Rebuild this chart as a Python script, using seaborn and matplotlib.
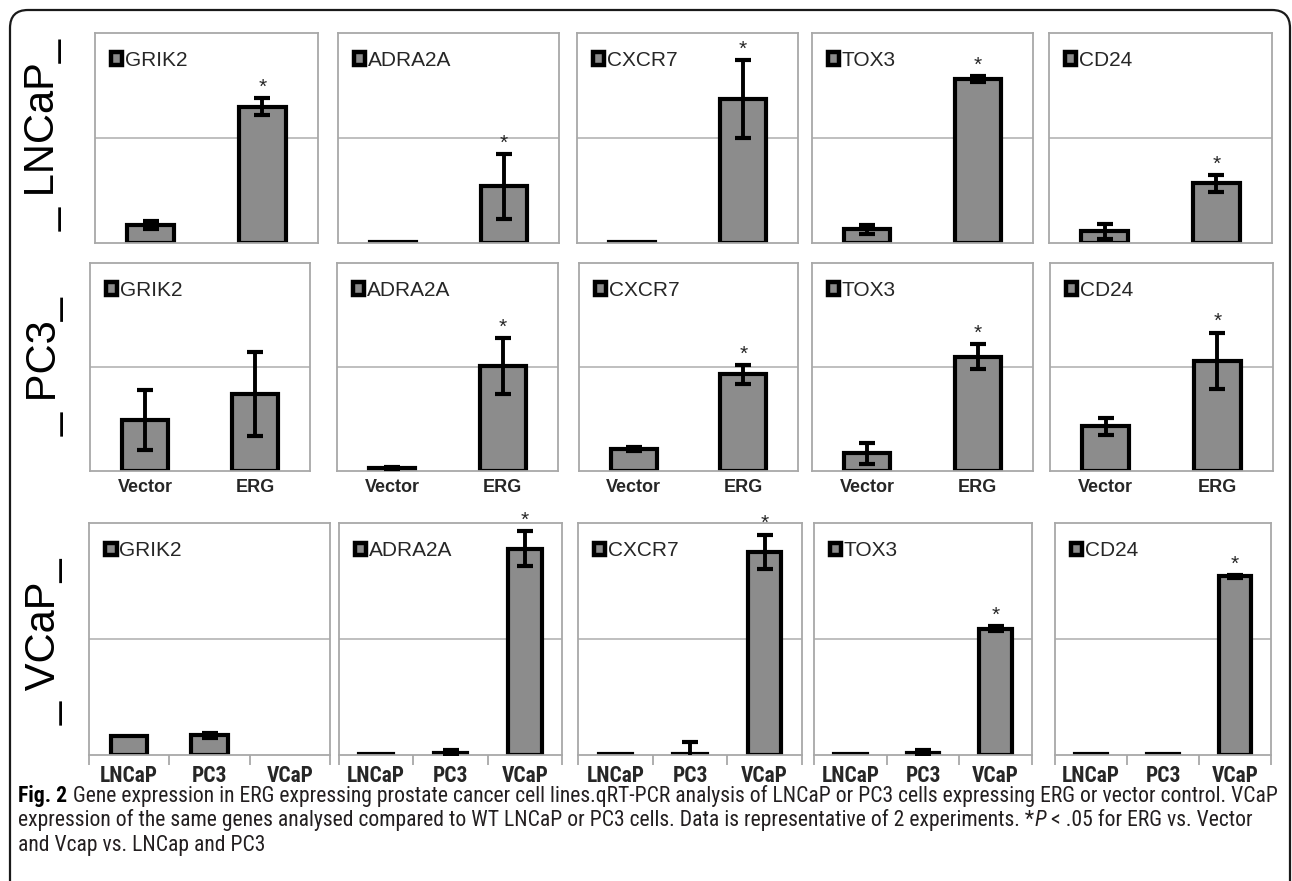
import numpy as np
import pandas as pd
import matplotlib
matplotlib.use("Agg")
import matplotlib.pyplot as plt
import seaborn as sns
from matplotlib.patches import Patch, FancyBboxPatch
from matplotlib.transforms import IdentityTransform

# ---------------- data (relative expression) ----------------
genes = ["GRIK2", "ADRA2A", "CXCR7", "TOX3", "CD24"]
transfection_groups = ["Vector", "ERG"]
cell_lines = ["LNCaP", "PC3", "VCaP"]
row_names = ["LNCaP", "PC3", "VCaP"]

# LNCaP cells expressing vector or ERG
lncap_vector = [0.17, 0.01, 0.01, 0.13, 0.11]
lncap_vector_err = [0.04, 0.00, 0.00, 0.04, 0.07]
lncap_erg = [1.30, 0.54, 1.37, 1.56, 0.57]
lncap_erg_err = [0.08, 0.31, 0.37, 0.03, 0.08]
lncap_erg_sig = [True, True, True, True, True]

# PC3 cells expressing vector or ERG
pc3_vector = [0.49, 0.03, 0.21, 0.17, 0.43]
pc3_vector_err = [0.29, 0.01, 0.02, 0.10, 0.08]
pc3_erg = [0.74, 1.01, 0.93, 1.10, 1.06]
pc3_erg_err = [0.40, 0.27, 0.09, 0.12, 0.27]
pc3_erg_sig = [False, True, True, True, True]

# WT cell lines compared with VCaP
wt_lncap = [0.16, 0.01, 0.01, 0.01, 0.01]
wt_lncap_err = [0.00, 0.00, 0.00, 0.00, 0.00]
wt_pc3 = [0.17, 0.02, 0.01, 0.02, 0.01]
wt_pc3_err = [0.02, 0.02, 0.10, 0.02, 0.00]
wt_vcap = [0.00, 1.78, 1.75, 1.09, 1.54]
wt_vcap_err = [0.00, 0.15, 0.15, 0.02, 0.01]
wt_vcap_sig = [False, True, True, True, True]

caption_line1 = [("Fig. 2", "bold"), (" Gene expression in ERG expressing prostate cancer cell lines.qRT-PCR analysis of LNCaP or PC3 cells expressing ERG or vector control. VCaP", "normal")]
caption_line2 = [("expression of the same genes analysed compared to WT LNCaP or PC3 cells. Data is representative of 2 experiments. *", "normal"), ("P", "italic"), (" < .05 for ERG vs. Vector", "normal")]
caption_line3 = [("and Vcap vs. LNCap and PC3", "normal")]

# ---------------- long table ----------------
records = []
for gi, g in enumerate(genes):
    records += [
        dict(row=0, gene=g, group="Vector", value=lncap_vector[gi], err=lncap_vector_err[gi], sig=False),
        dict(row=0, gene=g, group="ERG", value=lncap_erg[gi], err=lncap_erg_err[gi], sig=lncap_erg_sig[gi]),
        dict(row=1, gene=g, group="Vector", value=pc3_vector[gi], err=pc3_vector_err[gi], sig=False),
        dict(row=1, gene=g, group="ERG", value=pc3_erg[gi], err=pc3_erg_err[gi], sig=pc3_erg_sig[gi]),
        dict(row=2, gene=g, group="LNCaP", value=wt_lncap[gi], err=wt_lncap_err[gi], sig=False),
        dict(row=2, gene=g, group="PC3", value=wt_pc3[gi], err=wt_pc3_err[gi], sig=False),
        dict(row=2, gene=g, group="VCaP", value=wt_vcap[gi], err=wt_vcap_err[gi], sig=wt_vcap_sig[gi]),
    ]
df = pd.DataFrame(records)

# ---------------- style ----------------
sns.set_theme(style="white")
plt.rcParams["font.family"] = ["Liberation Sans", "DejaVu Sans"]
NARROW = ["Roboto Condensed", "DejaVu Sans"]

BAR = "#8c8c8c"
FRAME = "#a8a8a8"
GRID = "#b4b4b4"

W, H = 1292, 881
fig = plt.figure(figsize=(W / 100, H / 100), dpi=100)
fig.patch.set_facecolor("white")

# panel boxes in pixels: (lefts, rights, top, bottom) per row
layout = [
    ([95, 338, 577, 812, 1049], [318, 559, 798, 1033, 1272], 33, 243),
    ([90, 337, 579, 812, 1050], [310, 558, 798, 1033, 1273], 263, 471),
    ([89, 339, 578, 814, 1055], [330, 562, 802, 1032, 1271], 523, 755),
]


def px_axes(left, top, right, bottom):
    return fig.add_axes([left / W, 1 - bottom / H, (right - left) / W, (bottom - top) / H])


for r in range(3):
    lefts, rights, top, bottom = layout[r]
    order = transfection_groups if r < 2 else cell_lines
    n = len(order)
    for c, g in enumerate(genes):
        ax = px_axes(lefts[c], top, rights[c], bottom)
        sub = df[(df.row == r) & (df.gene == g)].set_index("group").loc[order].reset_index()
        sns.barplot(data=sub, x="group", y="value", order=order, color=BAR, saturation=1,
                    edgecolor="black", linewidth=3.0, width=0.42 if n == 2 else 0.45,
                    errorbar=None, ax=ax, zorder=2)
        for p in ax.patches:
            if p.get_height() <= 0:
                p.set_visible(False)
        xs = np.arange(n)
        m = sub["err"].values > 0
        ax.errorbar(xs[m], sub["value"].values[m], yerr=sub["err"].values[m], fmt="none",
                    ecolor="black", elinewidth=2.8, capsize=5.5, capthick=3.0, zorder=3)
        for i in range(n):
            if sub["sig"].iloc[i]:
                ax.annotate("*", (xs[i], sub["value"].iloc[i] + sub["err"].iloc[i]),
                            xytext=(0, 1), textcoords="offset points", ha="center", va="bottom",
                            fontsize=15, color="#262626", annotation_clip=False, zorder=4)
        ax.axhline(1, color=GRID, lw=1.2, zorder=0.5)
        ax.set_ylim(0, 2)
        ax.set_xlim(-0.5, n - 0.5)
        ax.set_yticks([])
        ax.set_xlabel("")
        ax.set_ylabel("")
        for s in ax.spines.values():
            s.set_color(FRAME)
            s.set_linewidth(1.3)
            s.set_visible(True)
        if r == 0:
            ax.set_xticks([])
        elif r == 1:
            ax.set_xticks(xs)
            ax.set_xticklabels(order, fontsize=13, fontweight="bold")
            ax.tick_params(axis="x", length=0, pad=6)
        else:
            ax.set_xticks(xs)
            ax.set_xticklabels(order, fontsize=15.5, fontweight="bold", family=NARROW,
                               fontstretch="condensed")
            ax.tick_params(axis="x", which="major", length=0, pad=7)
            ax.set_xticks(np.arange(n + 1) - 0.5, minor=True)
            ax.tick_params(axis="x", which="minor", bottom=True, length=7, width=1.3,
                           color=FRAME, direction="out")
        handle = Patch(facecolor=BAR, edgecolor="black", linewidth=3.2)
        ax.legend([handle], [g], loc="upper left", bbox_to_anchor=(0.015, 0.975),
                  frameon=False, fontsize=15, handlelength=0.55, handleheight=0.55,
                  handletextpad=0.12, borderaxespad=0.3, borderpad=0.3)

# ---------------- row labels ----------------
label_pos = [(44, 135), (46, 367), (45, 642)]
for name, (x, y) in zip(row_names, label_pos):
    fig.text(x / W, 1 - y / H, "_ " + name + "_", rotation=90, ha="center", va="center",
             fontsize=30, color="black")

# ---------------- outer frame ----------------
frame = FancyBboxPatch((10, -40), 1280, H - 10 + 40, boxstyle="round,pad=0,rounding_size=18",
                       transform=IdentityTransform(), fill=False, edgecolor="#1a1a1a", lw=1.6)
fig.add_artist(frame)

# ---------------- caption ----------------
renderer = fig.canvas.get_renderer()


def draw_line(y_px, segments, size, x0=18):
    arts = []
    x = x0
    for i, (txt, style) in enumerate(segments):
        kw = dict(fontsize=size, color="#231f20", family=NARROW, fontstretch="condensed",
                  va="center", ha="left")
        if style == "bold":
            kw.update(fontweight="bold", color="black")
        elif style == "italic":
            kw.update(fontstyle="italic")
        lead = len(txt) - len(txt.lstrip(" "))
        if lead:
            x += 0.25 * size * 100 / 72
        t = fig.text(x / W, 1 - y_px / H, txt.lstrip(" "), **kw)
        arts.append(t)
        x = t.get_window_extent(renderer).x1
    return arts, x


base = 13.0
arts, xend = draw_line(796, caption_line1, base)
for a in arts:
    a.remove()
size = base * (1275 - 18) / (xend - 18)
draw_line(796, caption_line1, size)
draw_line(820, caption_line2, size)
draw_line(845, caption_line3, size)

fig.savefig("out.png", dpi=100, facecolor="white")
